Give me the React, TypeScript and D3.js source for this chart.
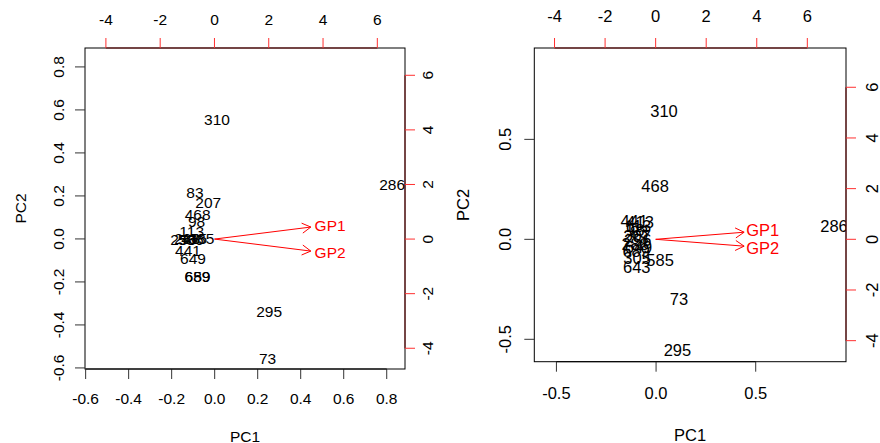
import React from "react";
import * as d3 from "d3";

// ---------- data ----------
// Left panel scores (PC1, PC2) with row labels
const leftLabels = ["310", "286", "83", "207", "468", "98", "113", "256", "288", "586", "415", "385", "441", "649", "689", "659", "295", "73"];
const leftPC1 = [0.011, 0.825, -0.092, -0.030, -0.079, -0.084, -0.107, -0.146, -0.128, -0.112, -0.095, -0.062, -0.124, -0.101, -0.080, -0.080, 0.253, 0.246];
const leftPC2 = [0.553, 0.252, 0.214, 0.169, 0.112, 0.080, 0.034, -0.004, 0.000, -0.004, 0.002, 0.000, -0.056, -0.090, -0.175, -0.175, -0.340, -0.555];

// Right panel scores
const rightLabels = ["310", "468", "286", "441", "413", "113", "98", "83", "207", "256", "288", "649", "689", "305", "585", "643", "73", "295"];
const rightPC1 = [0.040, -0.005, 0.893, -0.110, -0.080, -0.090, -0.105, -0.085, -0.095, -0.092, -0.105, -0.088, -0.100, -0.095, 0.020, -0.097, 0.115, 0.107];
const rightPC2 = [0.642, 0.267, 0.067, 0.093, 0.088, 0.068, 0.045, 0.035, 0.015, -0.002, -0.022, -0.040, -0.060, -0.094, -0.104, -0.137, -0.300, -0.557];

// Variable loadings (secondary axes)
const varNames = ["GP1", "GP2"];
const leftLoadX = [3.55, 3.55];
const leftLoadY = [0.44, -0.44];
const rightLoadX = [3.5, 3.5];
const rightLoadY = [0.28, -0.27];

const leftTicks = [-0.6, -0.4, -0.2, 0.0, 0.2, 0.4, 0.6, 0.8];
const rightTicks = [-0.5, 0.0, 0.5];
const secTicks = [-4, -2, 0, 2, 4, 6];

type PanelProps = {
  box: { x0: number; x1: number; y0: number; y1: number };
  xDom: [number, number];
  yDom: [number, number];
  sxDom: [number, number];
  syDom: [number, number];
  ticks: number[];
  labels: string[];
  px: number[];
  py: number[];
  lx: number[];
  ly: number[];
  fs: number;
  topLabY: number;
  botLabY: number;
  leftLabX: number;
  rightLabX: number;
  pcLabX: number;
  pc1Y: number;
  labFx: number;
  labFy: number;
};

const FONT = "'Liberation Sans', Arial, Helvetica, sans-serif";
const fmt = (v: number) => v.toFixed(1);

function Panel(p: PanelProps) {
  const { box } = p;
  const x = d3.scaleLinear().domain(p.xDom).range([box.x0, box.x1]);
  const y = d3.scaleLinear().domain(p.yDom).range([box.y1, box.y0]);
  const sx = d3.scaleLinear().domain(p.sxDom).range([box.x0, box.x1]);
  const sy = d3.scaleLinear().domain(p.syDom).range([box.y1, box.y0]);
  const tl = 10;
  const cx = (box.x0 + box.x1) / 2;
  const cy = (box.y0 + box.y1) / 2;
  const clipId = "clip" + Math.round(box.x0);

  const arrowHead = (x1: number, y1: number, x2: number, y2: number) => {
    const ang = Math.atan2(y2 - y1, x2 - x1);
    const len = 10;
    const a = Math.PI / 6;
    const p1 = [x2 - len * Math.cos(ang - a), y2 - len * Math.sin(ang - a)];
    const p2 = [x2 - len * Math.cos(ang + a), y2 - len * Math.sin(ang + a)];
    return `M${p1[0]},${p1[1]}L${x2},${y2}L${p2[0]},${p2[1]}`;
  };

  return (
    <g fontFamily={FONT} fontSize={p.fs}>
      <defs>
        <clipPath id={clipId}>
          <rect x={box.x0} y={box.y0} width={box.x1 - box.x0} height={box.y1 - box.y0} />
        </clipPath>
      </defs>
      {/* points */}
      <g clipPath={`url(#${clipId})`}>
        {p.labels.map((l, i) => (
          <text key={i} x={x(p.px[i])} y={y(p.py[i])} dy="0.35em" textAnchor="middle" fill="#000">
            {l}
          </text>
        ))}
      </g>
      {/* arrows */}
      {varNames.map((n, i) => {
        const x1 = sx(0), y1 = sy(0), x2 = sx(p.lx[i]), y2 = sy(p.ly[i]);
        return (
          <g key={n} stroke="red" strokeWidth={1} fill="none">
            <line x1={x1} y1={y1} x2={x2} y2={y2} />
            <path d={arrowHead(x1, y1, x2, y2)} />
            <text x={sx(p.lx[i] * p.labFx)} y={sy(p.ly[i] * p.labFy)} dy="0.35em" textAnchor="middle" fill="red" stroke="none">
              {n}
            </text>
          </g>
        );
      })}
      {/* box */}
      <rect x={box.x0} y={box.y0} width={box.x1 - box.x0} height={box.y1 - box.y0} fill="none" stroke="#000" strokeWidth={1} />
      {/* bottom axis */}
      {p.ticks.map((t) => (
        <g key={"b" + t}>
          <line x1={x(t)} x2={x(t)} y1={box.y1} y2={box.y1 + tl} stroke="#333" />
          <text x={x(t)} y={p.botLabY} dy="0.35em" textAnchor="middle">{fmt(t)}</text>
        </g>
      ))}
      <line x1={x(p.ticks[0])} x2={x(p.ticks[p.ticks.length - 1])} y1={box.y1} y2={box.y1} stroke="#000" />
      {/* left axis */}
      {p.ticks.map((t) => (
        <g key={"l" + t}>
          <line x1={box.x0 - tl} x2={box.x0} y1={y(t)} y2={y(t)} stroke="#333" />
          <text transform={`translate(${p.leftLabX},${y(t)}) rotate(-90)`} dy="0.35em" textAnchor="middle">{fmt(t)}</text>
        </g>
      ))}
      {/* top secondary axis */}
      <line x1={sx(secTicks[0])} x2={sx(secTicks[secTicks.length - 1])} y1={box.y0} y2={box.y0} stroke="#6a0c0c" />
      {secTicks.map((t) => (
        <g key={"t" + t}>
          <line x1={sx(t)} x2={sx(t)} y1={box.y0 - tl} y2={box.y0} stroke="#ff3030" />
          <text x={sx(t)} y={p.topLabY} dy="0.35em" textAnchor="middle">{String(t)}</text>
        </g>
      ))}
      {/* right secondary axis */}
      <line x1={box.x1} x2={box.x1} y1={sy(secTicks[0])} y2={sy(secTicks[secTicks.length - 1])} stroke="#6a0c0c" />
      {secTicks.map((t) => (
        <g key={"r" + t}>
          <line x1={box.x1} x2={box.x1 + tl} y1={sy(t)} y2={sy(t)} stroke="#ff3030" />
          <text transform={`translate(${p.rightLabX},${sy(t)}) rotate(-90)`} dy="0.35em" textAnchor="middle">{String(t)}</text>
        </g>
      ))}
      {/* axis titles */}
      <text x={cx} y={p.pc1Y} dy="0.35em" textAnchor="middle">PC1</text>
      <text transform={`translate(${p.pcLabX},${cy}) rotate(-90)`} dy="0.35em" textAnchor="middle">PC2</text>
    </g>
  );
}

export default function App() {
  return (
    <svg width={880} height={443} style={{ position: "absolute", left: 0, top: 0, background: "#fff" }}>
      <rect x={0} y={0} width={880} height={443} fill="#fff" />
      <Panel
        box={{ x0: 85, x1: 405, y0: 48, y1: 369 }}
        xDom={[-0.603, 0.885]}
        yDom={[-0.605, 0.888]}
        sxDom={[-4.77, 7.02]}
        syDom={[-4.76, 7.0]}
        ticks={leftTicks}
        labels={leftLabels}
        px={leftPC1}
        py={leftPC2}
        lx={leftLoadX}
        ly={leftLoadY}
        fs={15.5}
        topLabY={20}
        botLabY={399}
        leftLabX={59}
        rightLabX={428}
        pcLabX={21}
        pc1Y={436.5}
        labFx={1.2}
        labFy={1.1}
      />
      <Panel
        box={{ x0: 534.3, x1: 846, y0: 48, y1: 361.7 }}
        xDom={[-0.611, 0.953]}
        yDom={[-0.612, 0.957]}
        sxDom={[-4.8, 7.53]}
        syDom={[-4.83, 7.55]}
        ticks={rightTicks}
        labels={rightLabels}
        px={rightPC1}
        py={rightPC2}
        lx={rightLoadX}
        ly={rightLoadY}
        fs={16.5}
        topLabY={16.7}
        botLabY={393.3}
        leftLabX={505}
        rightLabX={872}
        pcLabX={463}
        pc1Y={435}
        labFx={1.21}
        labFy={1.3}
      />
    </svg>
  );
}
